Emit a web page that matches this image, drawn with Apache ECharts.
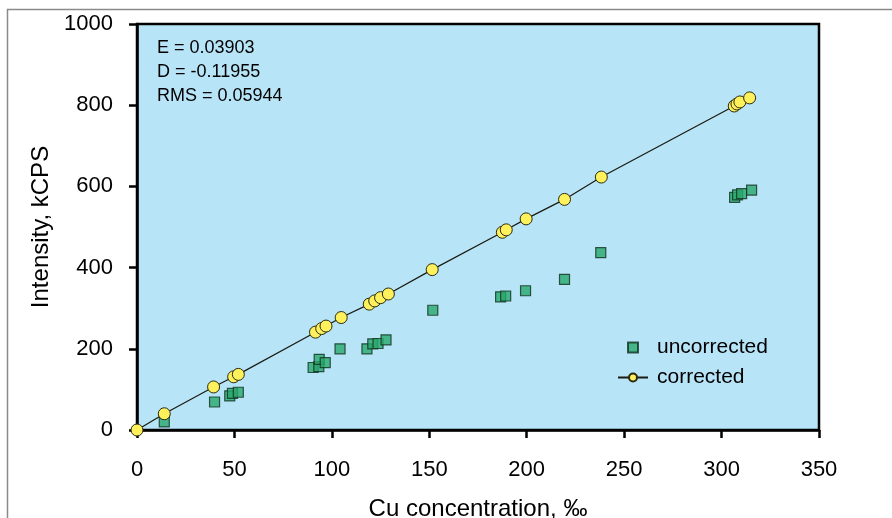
<!DOCTYPE html>
<html>
<head>
<meta charset="utf-8">
<title>Cu calibration</title>
<script src="https://cdn.jsdelivr.net/npm/echarts@6/dist/echarts.min.js"></script>
<style>
  html, body { margin: 0; padding: 0; background: #fff; }
  #chart { width: 892px; height: 518px; }
</style>
</head>
<body>
<div id="chart"></div>
<script>
// values
const uncorrectedX = [14, 39.8, 47.6, 49, 52, 90.4, 93.3, 93.5, 96.6, 104.2, 118, 121, 123.7, 127.8, 151.8, 186.6, 189.2, 199.4, 219.4, 238, 306.7, 308.2, 310.3, 315.4]
const uncorrectedY = [20, 69, 84, 90, 93, 154, 156, 174, 166, 200, 200, 212, 213, 222, 295, 328, 330, 343, 371, 437, 573, 579, 582, 591]

const correctedX = [0, 14, 39.3, 49.6, 52, 91.6, 94.8, 97, 104.8, 119.2, 122, 125, 129, 151.5, 187.5, 189.5, 199.7, 219.4, 238.3, 306.5, 307.9, 309.4, 314.4]
const correctedY = [0, 40, 106, 131, 137, 241, 250, 256, 277, 310, 318, 326, 335, 395, 487, 493, 520, 568, 623, 798, 803, 808, 818]

const statsLines = ['E = 0.03903', 'D = -0.11955', 'RMS = 0.05944']

const xName = 'Cu concentration, ‰'
const yName = 'Intensity, kCPS'

const font = 'Liberation Sans'

const zip = (xs, ys) => xs.map((x, i) => [x, ys[i]])

const chart = echarts.init(document.getElementById('chart'))

chart.setOption({
  animation: false,
  textStyle: { fontFamily: font },
  grid: {
    left: 137,
    top: 24,
    right: 73,
    bottom: 88,
    outerBoundsMode: 'none',
    show: true,
    backgroundColor: '#b8e4f8',
    borderColor: '#000',
    borderWidth: 2.5
  },
  graphic: [
    {
      type: 'rect',
      silent: true,
      shape: { x: 7.5, y: 9.5, width: 1000, height: 1000 },
      style: { fill: 'none', stroke: '#8a8a8a', lineWidth: 1.5 }
    },
    {
      type: 'text',
      left: 157,
      top: 36,
      style: {
        text: statsLines.join('\n'),
        font: '18px ' + font,
        lineHeight: 24,
        fill: '#000'
      }
    }
  ],
  legend: {
    orient: 'vertical',
    left: 612,
    top: 332,
    itemWidth: 30,
    itemHeight: 10,
    itemGap: 9,
    textStyle: { fontSize: 21, color: '#000', fontFamily: font, padding: [0, 0, 0, 4] },
    data: [
      { name: 'uncorrected', icon: 'path://M0,0H10V10H0Z' },
      { name: 'corrected' }
    ]
  },
  xAxis: {
    type: 'value',
    min: 0,
    max: 350,
    interval: 50,
    name: xName,
    nameLocation: 'middle',
    nameGap: 67,
    nameTextStyle: { fontSize: 24, color: '#000' },
    splitLine: { show: false },
    axisLine: { lineStyle: { color: '#000', width: 2.5 } },
    axisTick: { inside: false, length: 8, lineStyle: { color: '#000', width: 2.5 } },
    axisLabel: { fontSize: 22, color: '#000', margin: 29 }
  },
  yAxis: {
    type: 'value',
    min: 0,
    max: 1000,
    interval: 200,
    name: yName,
    nameLocation: 'middle',
    nameGap: 81,
    nameTextStyle: { fontSize: 24, color: '#000' },
    splitLine: { show: false },
    axisLine: { lineStyle: { color: '#000', width: 2.5 } },
    axisTick: { inside: false, length: 8, lineStyle: { color: '#000', width: 2.5 } },
    axisLabel: { fontSize: 22, color: '#000', margin: 24, formatter: v => String(v) }
  },
  series: [
    {
      name: 'uncorrected',
      type: 'scatter',
      symbol: 'rect',
      symbolSize: 10,
      itemStyle: { color: '#28a86c', borderColor: '#10301e', borderWidth: 1.2 },
      data: zip(uncorrectedX, uncorrectedY)
    },
    {
      name: 'corrected',
      type: 'line',
      symbol: 'circle',
      symbolSize: 12,
      showAllSymbol: true,
      lineStyle: { color: '#1a1a10', width: 1.2 },
      itemStyle: { color: '#fff15c', borderColor: '#2a2a10', borderWidth: 1 },
      data: zip(correctedX, correctedY)
    }
  ]
})
</script>
</body>
</html>
